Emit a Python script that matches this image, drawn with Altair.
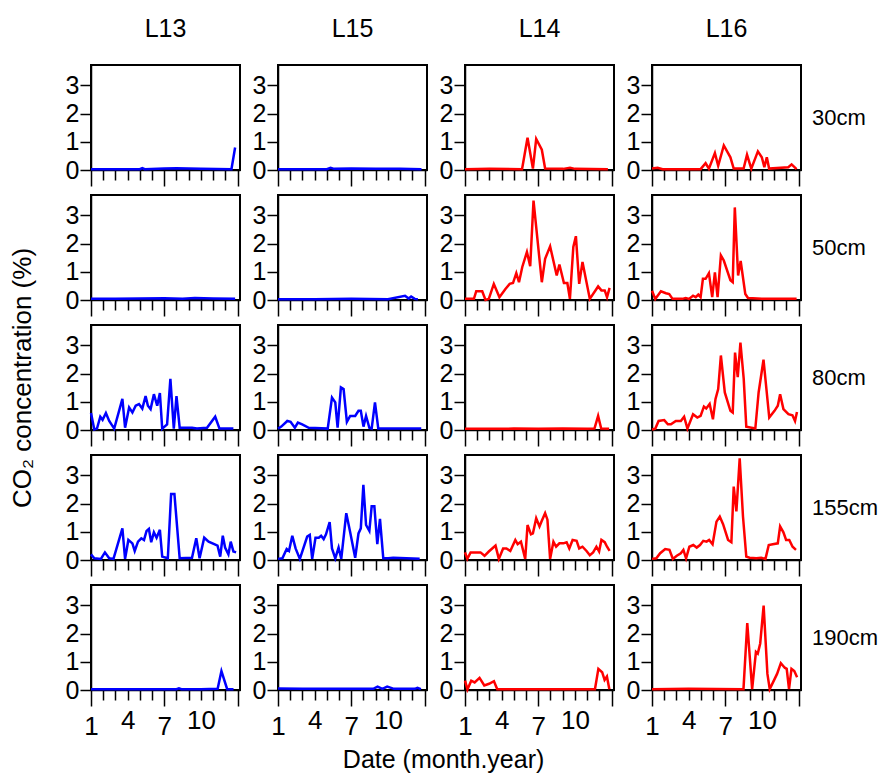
import altair as alt
import pandas as pd

FONT = "Liberation Sans, Arial, sans-serif"

cols = ["L13", "L15", "L14", "L16"]
depths = ["30cm", "50cm", "80cm", "155cm", "190cm"]
line_colors = ["#0000FF", "#0000FF", "#FF0000", "#FF0000"]
x_tick_values = list(range(1, 14))
x_label_values = [1, 4, 7, 10]
y_tick_values = [0, 1, 2, 3]
y_title = "CO\u2082 concentration (%)"
x_title = "Date (month.year)"

# ---------------- 30 cm ----------------
L13_30_x = [1.0, 3.0, 5.0, 5.2, 5.4, 7.0, 8.0, 9.0, 10.0, 12.5, 12.8]
L13_30_y = [0.03, 0.03, 0.03, 0.07, 0.03, 0.05, 0.06, 0.05, 0.04, 0.03, 0.80]
L15_30_x = [1.0, 3.0, 5.0, 5.3, 5.6, 7.0, 9.0, 11.0, 12.75]
L15_30_y = [0.03, 0.03, 0.03, 0.08, 0.04, 0.05, 0.04, 0.04, 0.03]
L14_30_x = [1.0, 3.0, 5.67, 6.12, 6.56, 6.83, 7.29, 7.56, 9.05, 9.6, 10.0, 12.7]
L14_30_y = [0.03, 0.04, 0.03, 1.14, 0.05, 1.10, 0.72, 0.05, 0.04, 0.08, 0.04, 0.03]
L16_30_x = [1.0, 1.46, 1.87, 4.98, 5.39, 5.66, 6.15, 6.42, 6.88, 7.42, 7.69, 8.5, 8.78,
            9.13, 9.67, 9.99, 10.2, 10.4, 10.59, 12.16, 12.43, 12.84]
L16_30_y = [0.05, 0.08, 0.03, 0.03, 0.24, 0.05, 0.60, 0.15, 0.87, 0.45, 0.05, 0.05, 0.54,
            0.05, 0.66, 0.45, 0.10, 0.45, 0.05, 0.10, 0.20, 0.03]

# ---------------- 50 cm ----------------
L13_50_x = [1.0, 3.0, 5.0, 7.0, 8.5, 9.5, 11.0, 12.8]
L13_50_y = [0.04, 0.04, 0.05, 0.06, 0.04, 0.07, 0.05, 0.04]
L15_50_x = [1.0, 4.0, 7.0, 10.0, 11.4, 11.7, 11.9, 12.2, 12.45]
L15_50_y = [0.03, 0.03, 0.04, 0.03, 0.15, 0.05, 0.12, 0.04, 0.03]
L14_50_x = [1.0, 1.73, 1.92, 2.41, 2.68, 2.95, 3.36, 3.82, 4.31, 4.66, 4.93, 5.2, 5.42,
            5.69, 6.07, 6.34, 6.61, 7.29, 7.56, 7.97, 8.51, 8.73, 9.1, 9.38, 9.59, 9.87,
            10.08, 10.35, 10.62, 11.22, 11.9, 12.17, 12.44, 12.63, 12.84]
L14_50_y = [0.04, 0.04, 0.31, 0.31, 0.0, 0.04, 0.57, 0.10, 0.39, 0.57, 0.60, 0.95, 0.63,
            1.17, 1.70, 1.20, 3.52, 0.63, 1.46, 1.90, 0.87, 1.26, 0.60, 0.60, 0.04, 1.88,
            2.26, 0.57, 1.35, 0.04, 0.48, 0.34, 0.34, 0.10, 0.43]
L16_50_x = [1.0, 1.27, 1.73, 2.14, 2.41, 2.68, 3.49, 3.76, 4.03, 4.36, 4.58, 4.79, 4.98,
            5.17, 5.39, 5.66, 5.93, 6.15, 6.37, 6.64, 6.88, 7.42, 7.61, 7.78, 8.05, 8.26,
            8.64, 8.86, 10.0, 12.84]
L16_50_y = [0.33, 0.04, 0.31, 0.24, 0.21, 0.04, 0.04, 0.07, 0.04, 0.15, 0.10, 0.19, 0.10,
            0.75, 0.75, 0.95, 0.10, 0.98, 0.10, 1.58, 1.40, 0.70, 0.63, 3.28, 0.87, 1.38,
            0.21, 0.07, 0.04, 0.04]

# ---------------- 80 cm ----------------
L13_80_x = [1.0, 1.27, 1.49, 1.76, 1.95, 2.22, 2.49, 2.9, 3.57, 3.79, 4.12, 4.39, 4.66,
            4.93, 5.2, 5.47, 5.66, 5.88, 6.15, 6.42, 6.64, 6.83, 7.23, 7.5, 7.78, 8.0,
            8.26, 9.27, 9.67, 10.5, 11.17, 11.52, 12.66]
L13_80_y = [0.60, 0.02, 0.05, 0.47, 0.36, 0.60, 0.32, 0.05, 1.10, 0.08, 0.80, 0.62, 0.86,
            0.92, 0.76, 1.20, 0.86, 0.74, 1.27, 0.86, 1.31, 0.05, 0.20, 1.81, 0.05, 1.20,
            0.08, 0.08, 0.05, 0.08, 0.47, 0.05, 0.05]
L15_80_x = [1.0, 1.27, 1.76, 2.03, 2.38, 2.63, 2.98, 3.52, 5.07, 5.42, 5.69, 5.88, 6.15,
            6.37, 6.64, 6.91, 7.32, 7.59, 7.78, 8.0, 8.21, 8.48, 8.67, 8.94, 9.21, 12.73]
L15_80_y = [0.05, 0.12, 0.32, 0.29, 0.08, 0.26, 0.20, 0.08, 0.05, 1.15, 0.98, 0.08, 1.51,
            1.45, 0.29, 0.50, 0.50, 0.68, 0.68, 0.12, 0.50, 0.08, 0.05, 0.98, 0.05, 0.05]
L14_80_x = [1.0, 3.0, 5.0, 7.0, 9.0, 11.0, 11.6, 11.9, 12.15, 12.8]
L14_80_y = [0.04, 0.04, 0.05, 0.04, 0.05, 0.04, 0.05, 0.50, 0.05, 0.04]
L16_80_x = [1.0, 1.27, 1.54, 2.0, 2.3, 2.55, 2.95, 3.36, 3.63, 3.9, 4.36, 4.71, 4.98,
            5.25, 5.44, 5.72, 5.99, 6.2, 6.42, 6.64, 6.96, 7.42, 7.61, 7.8, 8.02, 8.24,
            8.51, 8.72, 9.46, 9.73, 10.13, 10.6, 11.03, 11.3, 11.49, 11.76, 12.17, 12.5,
            12.71, 12.87]
L16_80_y = [0.02, 0.05, 0.32, 0.35, 0.20, 0.20, 0.32, 0.32, 0.47, 0.05, 0.56, 0.44, 0.50,
            0.83, 0.76, 0.92, 0.38, 1.10, 1.45, 2.64, 1.33, 0.68, 0.62, 2.74, 1.87, 3.10,
            1.81, 0.12, 0.05, 1.33, 2.49, 0.44, 0.68, 0.86, 1.27, 0.74, 0.56, 0.52, 0.32,
            0.64]

# ---------------- 155 cm ----------------
L13_155_x = [1.0, 1.27, 1.81, 2.14, 2.49, 2.84, 3.57, 3.79, 4.06, 4.39, 4.58, 4.85, 5.12,
             5.34, 5.55, 5.74, 5.93, 6.15, 6.37, 6.64, 6.83, 7.29, 7.56, 7.83, 8.26, 9.27,
             9.62, 9.89, 10.27, 10.63, 11.09, 11.36, 11.58, 11.79, 11.98, 12.25, 12.44,
             12.66, 12.88]
L13_155_y = [0.20, 0.06, 0.04, 0.27, 0.06, 0.04, 1.12, 0.04, 0.71, 0.59, 0.32, 0.65, 0.77,
             0.71, 1.03, 1.10, 0.63, 0.98, 0.79, 1.07, 0.12, 0.06, 2.34, 2.34, 0.06, 0.08,
             0.77, 0.06, 0.79, 0.65, 0.56, 0.51, 0.12, 0.86, 0.44, 0.20, 0.65, 0.30, 0.27]
L15_155_x = [1.0, 1.36, 1.71, 1.9, 2.17, 2.44, 2.79, 3.39, 3.6, 3.8, 4.07, 4.34, 4.53,
             4.74, 4.93, 5.23, 5.42, 5.69, 5.96, 6.18, 6.59, 6.91, 7.32, 7.59, 7.78, 7.99,
             8.21, 8.48, 8.67, 8.89, 9.13, 9.35, 9.62, 10.02, 10.43, 12.6]
L15_155_y = [0.04, 0.06, 0.39, 0.32, 0.86, 0.41, 0.04, 0.83, 0.89, 0.04, 0.79, 0.79, 0.86,
             0.74, 0.91, 1.34, 0.41, 0.06, 0.44, 0.04, 1.66, 0.98, 0.08, 0.94, 1.12, 2.66,
             1.24, 1.03, 1.90, 1.90, 0.56, 1.46, 0.06, 0.06, 0.08, 0.04]
L14_155_x = [1.0, 1.19, 1.46, 2.27, 2.6, 2.95, 3.5, 3.77, 4.12, 4.39, 4.71, 5.12, 5.31,
             5.58, 5.93, 6.12, 6.4, 6.56, 6.83, 7.1, 7.29, 7.56, 7.75, 7.97, 8.24, 8.46,
             8.73, 9.05, 9.32, 9.54, 9.81, 10.14, 10.35, 10.62, 10.95, 11.22, 11.49,
             11.76, 11.98, 12.17, 12.44, 12.63, 12.84]
L14_155_y = [0.27, 0.04, 0.27, 0.27, 0.15, 0.30, 0.51, 0.04, 0.41, 0.41, 0.32, 0.71, 0.56,
             0.65, 0.04, 1.24, 0.91, 0.94, 1.48, 1.19, 1.39, 1.66, 1.43, 0.04, 0.65, 0.47,
             0.59, 0.59, 0.63, 0.41, 0.71, 0.68, 0.41, 0.47, 0.32, 0.17, 0.27, 0.47, 0.30,
             0.71, 0.63, 0.47, 0.32]
L16_155_x = [1.0, 1.35, 1.67, 2.08, 2.43, 2.71, 3.03, 3.36, 3.57, 3.79, 4.06, 4.38, 4.66,
             4.93, 5.2, 5.47, 5.68, 5.96, 6.28, 6.55, 6.82, 7.23, 7.5, 7.69, 7.91, 8.18,
             8.45, 8.72, 8.99, 9.54, 9.94, 10.29, 10.56, 10.89, 11.3, 11.49, 11.76, 11.98,
             12.24, 12.51, 12.79]
L16_155_y = [0.04, 0.06, 0.24, 0.39, 0.36, 0.04, 0.15, 0.24, 0.36, 0.06, 0.47, 0.53, 0.44,
             0.53, 0.68, 0.65, 0.71, 0.56, 1.36, 1.54, 1.27, 0.71, 0.63, 2.60, 1.72, 3.60,
             1.54, 0.12, 0.08, 0.06, 0.08, 0.04, 0.53, 0.56, 0.59, 1.19, 0.98, 0.71, 0.71,
             0.47, 0.36]

# ---------------- 190 cm ----------------
L13_190_x = [1.0, 4.0, 7.0, 8.0, 8.2, 8.4, 10.0, 11.37, 11.68, 12.15, 12.67]
L13_190_y = [0.03, 0.03, 0.03, 0.03, 0.06, 0.03, 0.03, 0.04, 0.67, 0.03, 0.03]
L15_190_x = [1.0, 3.0, 5.0, 7.0, 8.8, 9.15, 9.55, 9.94, 10.5, 12.2, 12.42, 12.7]
L15_190_y = [0.05, 0.04, 0.04, 0.04, 0.04, 0.12, 0.04, 0.12, 0.04, 0.04, 0.08, 0.03]
L14_190_x = [1.0, 1.2, 1.51, 1.79, 2.19, 2.58, 2.97, 3.37, 3.64, 7.5, 11.64, 11.92, 12.23,
             12.43, 12.62, 12.82]
L14_190_y = [0.33, 0.02, 0.33, 0.27, 0.43, 0.16, 0.22, 0.31, 0.03, 0.03, 0.03, 0.75, 0.63,
             0.36, 0.48, 0.03]
L16_190_x = [1.0, 4.0, 8.49, 8.8, 9.2, 9.51, 9.66, 9.86, 10.14, 10.45, 10.64, 11.24, 11.55,
             11.87, 12.03, 12.22, 12.42, 12.65, 12.88]
L16_190_y = [0.03, 0.04, 0.03, 2.37, 0.03, 1.35, 1.29, 1.65, 2.99, 0.57, 0.03, 0.57, 0.95,
             0.79, 0.75, 0.03, 0.75, 0.67, 0.45]

SERIES = {
    ("L13", "30cm"): (L13_30_x, L13_30_y), ("L15", "30cm"): (L15_30_x, L15_30_y),
    ("L14", "30cm"): (L14_30_x, L14_30_y), ("L16", "30cm"): (L16_30_x, L16_30_y),
    ("L13", "50cm"): (L13_50_x, L13_50_y), ("L15", "50cm"): (L15_50_x, L15_50_y),
    ("L14", "50cm"): (L14_50_x, L14_50_y), ("L16", "50cm"): (L16_50_x, L16_50_y),
    ("L13", "80cm"): (L13_80_x, L13_80_y), ("L15", "80cm"): (L15_80_x, L15_80_y),
    ("L14", "80cm"): (L14_80_x, L14_80_y), ("L16", "80cm"): (L16_80_x, L16_80_y),
    ("L13", "155cm"): (L13_155_x, L13_155_y), ("L15", "155cm"): (L15_155_x, L15_155_y),
    ("L14", "155cm"): (L14_155_x, L14_155_y), ("L16", "155cm"): (L16_155_x, L16_155_y),
    ("L13", "190cm"): (L13_190_x, L13_190_y), ("L15", "190cm"): (L15_190_x, L15_190_y),
    ("L14", "190cm"): (L14_190_x, L14_190_y), ("L16", "190cm"): (L16_190_x, L16_190_y),
}

W, H = 149, 105
LABEL_TEST = " || ".join(f"datum.value == {v}" for v in x_label_values)


def make_panel(ci, ri):
    col, depth = cols[ci], depths[ri]
    xs, ys = SERIES[(col, depth)]
    df = pd.DataFrame({"month": xs, "co2": ys})
    bottom = ri == len(depths) - 1
    x_axis = alt.Axis(
        values=x_tick_values, labels=bottom, title=None, grid=False,
        labelExpr=f"({LABEL_TEST}) ? datum.label : ''",
        labelOverlap=False, labelFlush=False, labelFontSize=26, labelPadding=7,
        tickSize={"condition": {"test": "datum.value == 1 || datum.value == 7 || datum.value == 13",
                                "value": 16}, "value": 10},
    )
    show_ytitle = ci == 0 and ri == 2
    y_axis = alt.Axis(
        values=y_tick_values, grid=False, tickSize=11, labelPadding=1, labelFontSize=25,
        title=y_title if show_ytitle else None, titleFontSize=26, titlePadding=30,
        titleFontWeight="normal",
    )
    line = alt.Chart(df).mark_line(color=line_colors[ci], strokeWidth=2.5).encode(
        x=alt.X("month:Q", scale=alt.Scale(domain=[1, 13.2], nice=False, zero=False), axis=x_axis),
        y=alt.Y("co2:Q", scale=alt.Scale(domain=[0, 3.72], nice=False), axis=y_axis),
        order="month:Q",
    )
    layers = [line]
    if ci == len(cols) - 1:
        lab = alt.Chart(pd.DataFrame({"t": [depth]})).mark_text(
            align="left", baseline="middle", fontSize=22, font=FONT, color="black"
        ).encode(x=alt.value(W + 11), y=alt.value(H / 2), text="t:N")
        layers.append(lab)
    ch = alt.layer(*layers).properties(width=W, height=H)
    if ri == 0:
        ch = ch.properties(title=alt.TitleParams(col, fontSize=25, font=FONT, fontWeight="normal",
                                                 anchor="middle", frame="group", offset=23))
    return ch


panels = [make_panel(ci, ri) for ri in range(len(depths)) for ci in range(len(cols))]

chart = alt.concat(*panels, columns=4, spacing={"row": 25, "column": 38}, bounds="flush").properties(
    title=alt.TitleParams(x_title, orient="bottom", anchor="middle", fontSize=25, font=FONT,
                          fontWeight="normal", offset=8),
    background="white",
    padding={"top": 8, "bottom": 0, "left": 0, "right": 0},
).configure_view(
    stroke="black", strokeWidth=2
).configure_axis(
    domainColor="black", domainWidth=1.5, tickColor="black", tickWidth=1.5,
    labelColor="black", titleColor="black", labelFont=FONT, titleFont=FONT,
)

chart.save("out.html", embed_options={"renderer": "svg", "actions": False})
